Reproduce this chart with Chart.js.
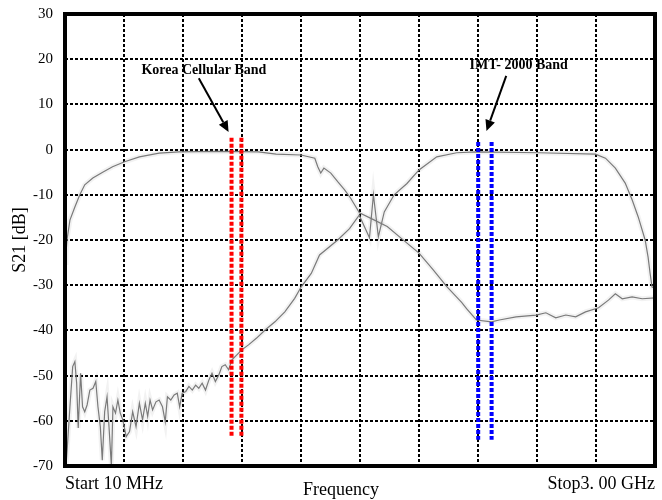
<!DOCTYPE html>
<html>
<head>
<meta charset="utf-8">
<script src="https://cdn.jsdelivr.net/npm/chart.js@4.4.0/dist/chart.umd.min.js"></script>
<style>
  body { margin: 0; background: #fff; }
</style>
</head>
<body>
<canvas id="chart" width="662" height="500"></canvas>
<script>
// frequency in MHz, S21 in dB
const lowFreq = [10, 15, 20, 35, 60, 85, 110, 151, 201, 251, 312, 387, 487, 588, 789, 990, 1080, 1206, 1276, 1291,
  1306, 1322, 1357, 1392, 1427, 1457, 1502, 1573, 1643, 1719, 1804, 1874, 1945, 2020, 2045, 2095, 2171, 2211, 2296, 2397,
  2447, 2497, 2548, 2598, 2648, 2714, 2764, 2799, 2834, 2884, 2935, 3000];
const lowS21 = [-25, -23, -20, -15.6, -12.7, -10, -7.8, -6.3, -5, -3.8, -2.7, -1.6, -0.8, -0.5, -0.4, -0.5, -1, -1.2, -1.9, -3.8,
  -5.2, -4.1, -5.2, -7.1, -8.9, -10.7, -14, -15.5, -17, -19.8, -22.9, -26.5, -30.3, -33.8, -35.2, -37.7, -38.1, -37.7, -37, -36.6,
  -36.1, -37.2, -36.6, -37, -35.9, -35, -33.3, -31.9, -33, -32.6, -33, -32.8];

const highFreq = [10, 15, 22, 35, 49, 60, 69, 77, 89, 99, 110, 122, 136, 152, 166, 177, 189, 199, 211, 223, 233,
  245, 253, 266, 278, 290, 303, 320, 337, 353, 370, 387, 403, 417, 429, 441, 454, 471, 487, 504, 518,
  529, 546, 563, 579, 591, 604, 622, 638, 655, 672, 688, 705, 722, 739, 755, 772, 789, 805, 822, 839,
  856, 881, 906, 940, 981, 1024, 1074, 1124, 1174, 1208, 1258, 1300, 1392, 1452, 1501, 1553, 1573, 1598, 1628, 1678,
  1743, 1804, 1894, 1995, 2095, 2412, 2698, 2749, 2799, 2849, 2884, 2915, 2950, 2965, 2975, 2985, 3000];
const highS21 = [-67, -70, -65.7, -56.9, -48, -46.9, -51.7, -61.6, -49.5, -56.9, -58, -56.5, -53.2, -52.8, -51.3, -56.9, -61.3, -68.7, -58, -54.7, -61.3,
  -70, -56.9, -58.3, -55.4, -58.3, -59.8, -63.5, -62.4, -58, -61.3, -56.1, -59.8, -56.1, -59, -55.4, -57.6, -55.8, -55.4, -56.9, -60.2,
  -54.7, -55.4, -54.3, -53.9, -56.9, -53.9, -53.5, -52.4, -53.2, -52.1, -52.8, -51.7, -53.2, -51, -49.5, -51.3, -49.9, -48, -47.6, -48.7,
  -46.5, -45.4, -44.3, -43.2, -41.7, -39.9, -38.1, -35.9, -32.9, -30.3, -27.4, -23.3, -20, -17.5, -14.5, -19.5, -10, -19.3, -13.8, -10,
  -7.5, -4.5, -1.6, -0.7, -0.5, -0.7, -1, -1.9, -4.1, -7.4, -11.1, -14.9, -20, -23.8, -27.3, -30.4, -30.6];

// band edge markers
const koreaBandFreq = [854, 904];
const koreaBandRange = [2.6, -63.6];
const imtBandFreq = [2104, 2172];
const imtBandRange = [1.7, -64.2];

// axis
const xTicks = [10, 309, 608, 907, 1206, 1505, 1804, 2103, 2402, 2701, 3000];
const xLabels = ['Start 10 MHz', 'Stop3. 00 GHz'];

// annotations: label position and arrow (start -> tip) in data units
const notes = [
  { text: 'Korea Cellular Band', x: 714, y: 17.6, from: [688, 15.8], to: [839, 3.9] },
  { text: 'IMT- 2000 Band', x: 2309, y: 18.7, from: [2246, 16.3], to: [2146, 4.1] }
];

const pts = (xs, ys) => xs.map((x, i) => ({ x: x, y: ys[i] }));

const curve = (data) => ({
  data: data, borderColor: '#7a7a7a', borderWidth: 1.2, pointRadius: 0, tension: 0, order: 1
});
const halo = (data) => ({
  data: data, borderColor: 'rgba(0,0,0,0.05)', borderWidth: 5, pointRadius: 0, tension: 0, order: 2
});
const marker = (f, range, color) => ({
  data: [{ x: f, y: range[0] }, { x: f, y: range[1] }],
  borderColor: color, borderWidth: 4, borderDash: [4, 2], pointRadius: 0, order: 0
});

const framePlugin = {
  id: 'frame',
  afterDraw(chart) {
    const { ctx, chartArea: a, scales } = chart;
    const xs = scales.x, ys = scales.y;
    ctx.save();

    // thick box around plot
    ctx.strokeStyle = '#000';
    ctx.lineWidth = 4;
    ctx.strokeRect(a.left, a.top, a.right - a.left, a.bottom - a.top);

    // annotations
    ctx.fillStyle = '#000';
    ctx.font = 'bold 14px "Liberation Serif"';
    ctx.textAlign = 'center';
    ctx.textBaseline = 'middle';
    notes.forEach(n => {
      ctx.fillText(n.text, xs.getPixelForValue(n.x), ys.getPixelForValue(n.y));
      const x0 = xs.getPixelForValue(n.from[0]), y0 = ys.getPixelForValue(n.from[1]);
      const x1 = xs.getPixelForValue(n.to[0]), y1 = ys.getPixelForValue(n.to[1]);
      const ang = Math.atan2(y1 - y0, x1 - x0);
      const hl = 11, hw = 5;
      const bx = x1 - hl * Math.cos(ang), by = y1 - hl * Math.sin(ang);
      ctx.lineWidth = 2;
      ctx.beginPath();
      ctx.moveTo(x0, y0);
      ctx.lineTo(bx, by);
      ctx.stroke();
      ctx.beginPath();
      ctx.moveTo(x1, y1);
      ctx.lineTo(bx + hw * Math.sin(ang), by - hw * Math.cos(ang));
      ctx.lineTo(bx - hw * Math.sin(ang), by + hw * Math.cos(ang));
      ctx.closePath();
      ctx.fill();
    });

    // x axis title, sits a bit left of centre in the original
    ctx.font = '18px "Liberation Serif"';
    ctx.fillText('Frequency', (a.left + a.right) / 2 - 19, a.bottom + 24);
    ctx.restore();
  }
};

new Chart(document.getElementById('chart'), {
  type: 'line',
  data: {
    datasets: [
      marker(koreaBandFreq[0], koreaBandRange, '#ff0000'),
      marker(koreaBandFreq[1], koreaBandRange, '#ff0000'),
      marker(imtBandFreq[0], imtBandRange, '#0000ff'),
      marker(imtBandFreq[1], imtBandRange, '#0000ff'),
      curve(pts(lowFreq, lowS21)),
      curve(pts(highFreq, highS21)),
      halo(pts(lowFreq, lowS21)),
      halo(pts(highFreq, highS21))
    ]
  },
  options: {
    responsive: false,
    animation: false,
    devicePixelRatio: 1,
    layout: { padding: { top: 14, right: 2, left: 0, bottom: 0 } },
    plugins: { legend: { display: false }, tooltip: { enabled: false } },
    scales: {
      x: {
        type: 'linear', min: 10, max: 3000,
        afterBuildTicks: s => { s.ticks = xTicks.map(v => ({ value: v })); },
        afterFit: s => { s.height = 34; },
        grid: { color: '#000', lineWidth: 2, drawTicks: false },
        border: { display: false, dash: [3, 2] },
        ticks: {
          autoSkip: false, maxRotation: 0, align: 'inner', padding: 7, color: '#000',
          font: { family: 'Liberation Serif', size: 18 },
          callback: (v, i, arr) => i === 0 ? xLabels[0] : (i === arr.length - 1 ? xLabels[1] : '')
        }
      },
      y: {
        min: -70, max: 30,
        afterFit: s => { s.width = 65; s.paddingTop = 9; s.paddingBottom = 9; },
        grid: { color: '#000', lineWidth: 2, drawTicks: false },
        border: { display: false, dash: [3, 2] },
        ticks: {
          stepSize: 10, padding: 12, color: '#000',
          font: { family: 'Liberation Serif', size: 15 }
        },
        title: {
          display: true, text: 'S21 [dB]', color: '#000', padding: { top: 9, bottom: 0 },
          font: { family: 'Liberation Serif', size: 18 }
        }
      }
    }
  },
  plugins: [framePlugin]
});
</script>
</body>
</html>
